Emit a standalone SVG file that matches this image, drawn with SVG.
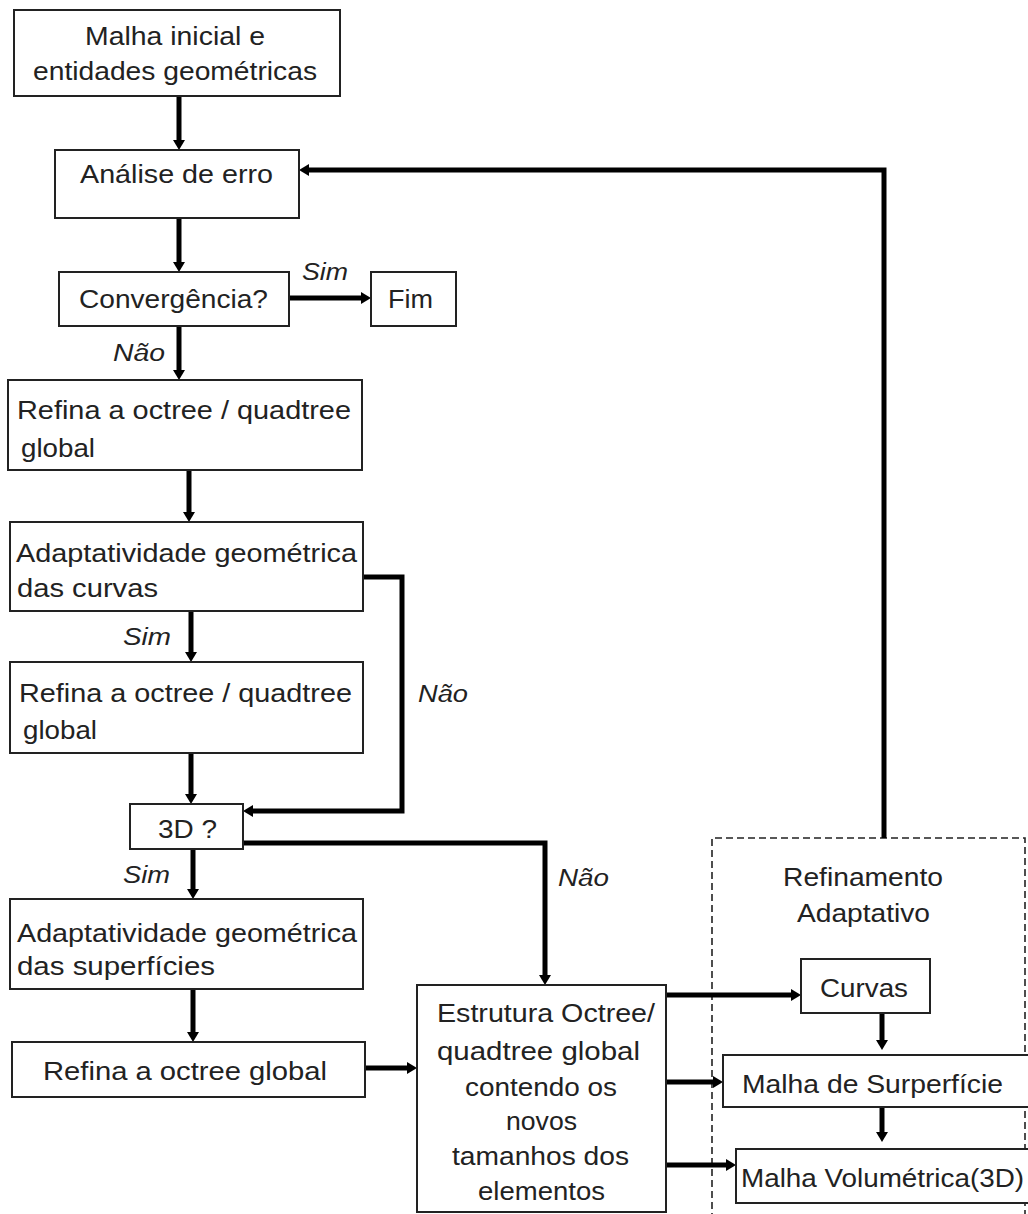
<svg xmlns="http://www.w3.org/2000/svg" width="1028" height="1214" viewBox="0 0 1028 1214">
<style>
.box{fill:#fff;stroke:#222;stroke-width:2}
.t{font-family:"Liberation Sans",Arial,sans-serif;font-size:25px;fill:#222}
.l{font-family:"Liberation Sans",Arial,sans-serif;font-size:23px;font-style:italic;fill:#222}
.c{fill:none;stroke:#000;stroke-width:5}
.d{fill:none;stroke:#222;stroke-width:1.6;stroke-dasharray:7 4}
</style>
<defs>
<marker id="ah" viewBox="0 0 10 12" refX="1" refY="6" markerWidth="10" markerHeight="12" markerUnits="userSpaceOnUse" orient="auto">
<path d="M0,0 L10,6 L0,12 z" fill="#000"/>
</marker>
</defs>
<rect width="1028" height="1214" fill="#fff"/>
<g id="refinamento-adaptativo">
<path class="d" d="M712,1220 L712,838 L1025,838 L1025,1220"/>
<text class="t" x="783" y="886" textLength="160" lengthAdjust="spacingAndGlyphs">Refinamento</text>
<text class="t" x="797" y="922" textLength="133" lengthAdjust="spacingAndGlyphs">Adaptativo</text>
</g>
<g id="connectors">
<path class="c" marker-end="url(#ah)" d="M179,96 L179,141"/>
<path class="c" marker-end="url(#ah)" d="M179,218 L179,263"/>
<path class="c" marker-end="url(#ah)" d="M289,298 L362,298"/>
<path class="c" marker-end="url(#ah)" d="M179,326 L179,371"/>
<path class="c" marker-end="url(#ah)" d="M189,470 L189,513"/>
<path class="c" marker-end="url(#ah)" d="M191,611 L191,653"/>
<path class="c" marker-end="url(#ah)" d="M363,577 L402,577 L402,811 L252,811"/>
<path class="c" marker-end="url(#ah)" d="M191,753 L191,795"/>
<path class="c" marker-end="url(#ah)" d="M193,849 L193,890"/>
<path class="c" marker-end="url(#ah)" d="M243,843 L545,843 L545,976"/>
<path class="c" marker-end="url(#ah)" d="M193,989 L193,1033"/>
<path class="c" marker-end="url(#ah)" d="M365,1068 L408,1068"/>
<path class="c" marker-end="url(#ah)" d="M884,838 L884,170 L308,170"/>
<path class="c" marker-end="url(#ah)" d="M666,995 L792,995"/>
<path class="c" marker-end="url(#ah)" d="M666,1082 L714,1082"/>
<path class="c" marker-end="url(#ah)" d="M666,1165 L727,1165"/>
<path class="c" marker-end="url(#ah)" d="M882,1003 L882,1041"/>
<path class="c" marker-end="url(#ah)" d="M882,1098 L882,1133"/>
<text class="l" x="302" y="280" textLength="46" lengthAdjust="spacingAndGlyphs">Sim</text>
<text class="l" x="113" y="361" textLength="52" lengthAdjust="spacingAndGlyphs">Não</text>
<text class="l" x="123" y="645" textLength="48" lengthAdjust="spacingAndGlyphs">Sim</text>
<text class="l" x="418" y="702" textLength="50" lengthAdjust="spacingAndGlyphs">Não</text>
<text class="l" x="123" y="883" textLength="47" lengthAdjust="spacingAndGlyphs">Sim</text>
<text class="l" x="558" y="886" textLength="51" lengthAdjust="spacingAndGlyphs">Não</text>
</g>
<g id="n1">
<rect class="box" x="14" y="10" width="326" height="86"/>
<text class="t" x="85" y="45" textLength="180" lengthAdjust="spacingAndGlyphs">Malha inicial e</text>
<text class="t" x="33" y="80" textLength="284" lengthAdjust="spacingAndGlyphs">entidades geométricas</text>
</g>
<g id="n2">
<rect class="box" x="55" y="150" width="244" height="68"/>
<text class="t" x="80" y="183" textLength="193" lengthAdjust="spacingAndGlyphs">Análise de erro</text>
</g>
<g id="n3">
<rect class="box" x="59" y="272" width="230" height="54"/>
<text class="t" x="79" y="308" textLength="189" lengthAdjust="spacingAndGlyphs">Convergência?</text>
</g>
<g id="fim">
<rect class="box" x="371" y="272" width="85" height="54"/>
<text class="t" x="388" y="308" textLength="45" lengthAdjust="spacingAndGlyphs">Fim</text>
</g>
<g id="n4">
<rect class="box" x="8" y="380" width="354" height="90"/>
<text class="t" x="17" y="419" textLength="334" lengthAdjust="spacingAndGlyphs">Refina a octree / quadtree</text>
<text class="t" x="21" y="457" textLength="74" lengthAdjust="spacingAndGlyphs">global</text>
</g>
<g id="n5">
<rect class="box" x="10" y="522" width="353" height="89"/>
<text class="t" x="16" y="562" textLength="341" lengthAdjust="spacingAndGlyphs">Adaptatividade geométrica</text>
<text class="t" x="17" y="597" textLength="141" lengthAdjust="spacingAndGlyphs">das curvas</text>
</g>
<g id="n6">
<rect class="box" x="10" y="662" width="353" height="91"/>
<text class="t" x="19" y="702" textLength="333" lengthAdjust="spacingAndGlyphs">Refina a octree / quadtree</text>
<text class="t" x="23" y="739" textLength="74" lengthAdjust="spacingAndGlyphs">global</text>
</g>
<g id="n3d">
<rect class="box" x="130" y="804" width="113" height="45"/>
<text class="t" x="158" y="838" textLength="59" lengthAdjust="spacingAndGlyphs">3D ?</text>
</g>
<g id="n7">
<rect class="box" x="10" y="899" width="353" height="90"/>
<text class="t" x="17" y="942" textLength="340" lengthAdjust="spacingAndGlyphs">Adaptatividade geométrica</text>
<text class="t" x="17" y="975" textLength="198" lengthAdjust="spacingAndGlyphs">das superfícies</text>
</g>
<g id="n8">
<rect class="box" x="12" y="1042" width="353" height="55"/>
<text class="t" x="43" y="1080" textLength="284" lengthAdjust="spacingAndGlyphs">Refina a octree global</text>
</g>
<g id="estrutura">
<rect class="box" x="417" y="985" width="249" height="227"/>
<text class="t" x="437" y="1022" textLength="218" lengthAdjust="spacingAndGlyphs">Estrutura Octree/</text>
<text class="t" x="437" y="1060" textLength="203" lengthAdjust="spacingAndGlyphs">quadtree global</text>
<text class="t" x="465" y="1096" textLength="152" lengthAdjust="spacingAndGlyphs">contendo os</text>
<text class="t" x="506" y="1130" textLength="71" lengthAdjust="spacingAndGlyphs">novos</text>
<text class="t" x="452" y="1165" textLength="177" lengthAdjust="spacingAndGlyphs">tamanhos dos</text>
<text class="t" x="478" y="1200" textLength="127" lengthAdjust="spacingAndGlyphs">elementos</text>
</g>
<g id="curvas">
<rect class="box" x="801" y="959" width="129" height="54"/>
<text class="t" x="820" y="997" textLength="88" lengthAdjust="spacingAndGlyphs">Curvas</text>
</g>
<g id="malha-superficie">
<rect class="box" x="723" y="1055" width="310" height="52"/>
<text class="t" x="742" y="1093" textLength="261" lengthAdjust="spacingAndGlyphs">Malha de Surperfície</text>
</g>
<g id="malha-volumetrica">
<rect class="box" x="736" y="1149" width="297" height="54"/>
<text class="t" x="741" y="1187" textLength="283" lengthAdjust="spacingAndGlyphs">Malha Volumétrica(3D)</text>
</g>
</svg>
